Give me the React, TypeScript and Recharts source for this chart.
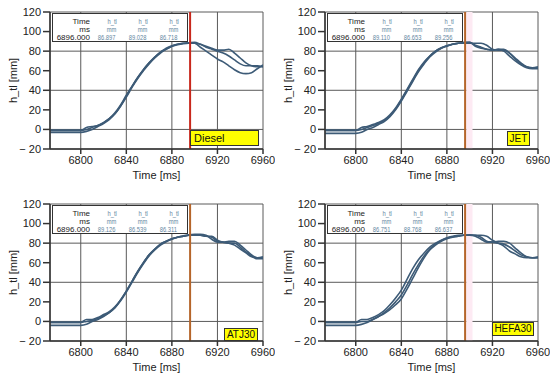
import React from 'react';
import { LineChart, Line, XAxis, YAxis, CartesianGrid, ReferenceLine, ReferenceArea } from 'recharts';

const timeMs = [6773, 6780, 6785, 6790, 6795, 6800, 6805, 6810, 6815, 6820, 6825, 6830, 6835, 6840, 6845, 6850, 6855, 6860, 6865, 6870, 6875, 6880, 6885, 6890, 6895, 6900, 6905, 6910, 6915, 6920, 6925, 6930, 6935, 6940, 6945, 6950, 6955, 6960];
const xTicks = [6800, 6840, 6880, 6920, 6960];
const yTicks = [-20, 0, 20, 40, 60, 80, 100, 120];
const cursorTime = 6896;

const dieselRun1 = [-3, -3, -3, -3, -3, -3, -2, 0, 3, 6, 10, 16, 24, 33, 43, 52, 60, 67, 73, 78, 82, 85, 86.5, 87.5, 88, 88, 84, 80, 76, 72, 69, 65, 61, 58, 57, 58, 62, 66];
const dieselRun2 = [-1, -1, -1, -1, -1, -1, 2, 3, 4, 7, 11, 17, 25, 35, 44, 53, 61, 68, 74, 79, 82, 85, 87, 88, 88.5, 89, 87, 85, 83, 81, 81, 82, 78, 73, 68, 65, 64, 64];
const dieselRun3 = [-1, -1, -1, -1, -1, -1, 0, 2, 4, 7, 11, 16, 24, 34, 44, 53, 61, 68, 74, 79, 83, 85.5, 87, 88, 88.5, 88, 87, 84, 82, 80, 78, 75, 71, 67, 65, 65, 65, 64];

const jetRun1 = [-4, -4, -4, -4, -4, -4, -3, 0, 2, 5, 8, 13, 20, 29, 39, 49, 59, 67, 74, 79, 83, 85, 87, 88, 88.5, 89, 85, 83, 82, 81, 82, 80, 75, 70, 66, 63, 62, 62];
const jetRun2 = [-1, -1, -1, -1, -1, -1, 2, 3, 5, 7, 10, 15, 22, 31, 41, 51, 61, 69, 75, 80, 83.5, 85.5, 87, 88, 88, 88, 88, 88, 86, 82, 81, 81, 78, 73, 68, 64, 63, 64];
const jetRun3 = [-1, -1, -1, -1, -1, -1, 0, 2, 4, 6, 9, 14, 21, 30, 40, 50, 60, 68, 75, 80, 83, 85.5, 87, 88, 89, 89, 86, 84, 82, 81, 82, 82, 78, 72, 67, 64, 63, 63];

const atjRun1 = [-4, -4, -4, -4, -4, -4, -3, 0, 2, 5, 9, 14, 21, 30, 40, 50, 59, 67, 73, 78, 81.5, 84, 86, 87, 88, 88.5, 88, 87, 86, 82, 81, 80, 80, 76, 71, 67, 64, 64];
const atjRun2 = [-1, -1, -1, -1, -1, -1, 2, 2, 4, 7, 10, 15, 22, 31, 41, 51, 60, 68, 74, 79, 82, 84.5, 86, 87.5, 88.5, 89, 89, 88, 84, 81, 81, 82, 82, 78, 73, 68, 65, 65];
const atjRun3 = [-1, -1, -1, -1, -1, -1, 0, 1, 3, 6, 9, 14, 22, 31, 41, 51, 60, 68, 74, 79, 82, 84.5, 86, 87, 88, 88, 88, 87, 87, 83, 81, 80, 78, 74, 70, 66, 65, 66];

const hefaRun1 = [-4, -4, -4, -4, -4, -4, -3, -1, 2, 5, 9, 14, 20, 27, 37, 48, 58, 67, 74, 79, 82.5, 85, 86.5, 87.5, 88, 88, 87, 84, 81, 81, 82, 82, 80, 75, 70, 66, 65, 65];
const hefaRun2 = [-1, -1, -1, -1, -1, -1, 2, 2, 4, 7, 11, 17, 24, 32, 43, 54, 63, 70, 76, 80, 83, 85.5, 87, 88, 88, 88, 88, 88, 87, 83, 80, 77, 72, 69, 66, 65, 65, 66];
const hefaRun3 = [-1, -1, -1, -1, -1, -1, 0, 0, 2, 5, 8, 12, 17, 23, 33, 44, 55, 65, 73, 78, 82, 84.5, 86, 87, 88, 88.5, 88, 86, 82, 81, 80, 79, 76, 72, 68, 66, 65, 65];

const fuelLabels = ['Diesel', 'JET', 'ATJ30', 'HEFA30'];
const cursorValues = [
  ['86.897', '89.028', '86.718'],
  ['89.110', '86.653', '89.256'],
  ['89.126', '86.539', '86.311'],
  ['86.751', '88.768', '86.637'],
];
const runSets = [
  [dieselRun1, dieselRun2, dieselRun3],
  [jetRun1, jetRun2, jetRun3],
  [atjRun1, atjRun2, atjRun3],
  [hefaRun1, hefaRun2, hefaRun3],
];

const FONT = 'Arial, "Liberation Sans", sans-serif';
const LINE_COLOR = '#3d5b77';
const VAL_COLOR = '#5f86a0';

type PanelProps = {
  idx: number;
  left: number;
  top: number;
  marginTop: number;
  axisHeight: number;
  labelOffset: number;
  cursorColor: string;
  pinkBand: boolean;
  box: { x: number; y: number; w: number; h: number; center: boolean };
};

const BOX_W = 136;
const BOX_H = 29;

function Cell(props: { s: string; x: number; y: number; color: string; narrow: boolean }) {
  const { s, x, y, color, narrow } = props;
  return (
    <div
      style={{
        position: 'absolute',
        right: BOX_W - 1 - x,
        top: y,
        fontSize: 8,
        lineHeight: '9px',
        color,
        whiteSpace: 'nowrap',
        transform: narrow ? 'scaleX(0.72)' : undefined,
        transformOrigin: 'right center',
      }}
    >
      {s}
    </div>
  );
}

function Panel(p: PanelProps) {
  const runs = runSets[p.idx];
  const data = timeMs.map((t, i) => ({ t, a: runs[0][i], b: runs[1][i], c: runs[2][i] }));
  const vals = cursorValues[p.idx];
  const colRight = [63, 94, 125];
  return (
    <div style={{ position: 'absolute', left: p.left, top: p.top, width: 275, height: 187 }}>
      <LineChart width={275} height={187} data={data} margin={{ top: p.marginTop, right: 12, left: 0, bottom: 0 }}>
        <CartesianGrid stroke="#5a5a5a" strokeWidth={1} />
        {p.pinkBand && <ReferenceArea x1={6897} x2={6902.5} fill="#fdeaf3" fillOpacity={1} stroke="none" />}
        <XAxis
          type="number"
          dataKey="t"
          domain={[6773, 6960]}
          ticks={xTicks}
          allowDataOverflow
          height={p.axisHeight}
          tickSize={5}
          tickMargin={2}
          stroke="#333"
          strokeWidth={1.5}
          tick={{ fontSize: 11, fill: '#222', fontFamily: FONT }}
          label={{ value: 'Time [ms]', position: 'insideBottom', offset: p.labelOffset, fontSize: 11, fill: '#222', fontFamily: FONT }}
        />
        <YAxis
          type="number"
          domain={[-20, 120]}
          ticks={yTicks}
          width={50}
          tickSize={7}
          tickMargin={2}
          stroke="#333"
          strokeWidth={1.5}
          tickFormatter={(v: number) => (v < 0 ? '\u2212 ' + Math.abs(v) : String(v))}
          tick={{ fontSize: 11, fill: '#222', fontFamily: FONT }}
          label={{ value: 'h_tl [mm]', angle: -90, position: 'insideLeft', offset: 13, style: { textAnchor: 'middle' }, fontSize: 11, fill: '#222', fontFamily: FONT }}
        />
        <Line type="monotone" dataKey="a" stroke={LINE_COLOR} strokeWidth={1.6} dot={false} isAnimationActive={false} />
        <Line type="monotone" dataKey="b" stroke={LINE_COLOR} strokeWidth={1.6} dot={false} isAnimationActive={false} />
        <Line type="monotone" dataKey="c" stroke={LINE_COLOR} strokeWidth={1.6} dot={false} isAnimationActive={false} />
        <ReferenceLine x={cursorTime} stroke={p.cursorColor} strokeWidth={2} />
      </LineChart>
      <div style={{ position: 'absolute', left: 52, top: p.marginTop + 1, width: BOX_W, height: BOX_H, border: '1px solid #333', background: '#fff', fontFamily: FONT, boxSizing: 'border-box' }}>
        <Cell s="Time" x={38} y={3} color="#222" narrow={false} />
        <Cell s="ms" x={38} y={11} color="#222" narrow={false} />
        <Cell s="6896.000" x={38} y={19} color="#222" narrow={false} />
        {[0, 1, 2].map((k) => (
          <React.Fragment key={k}>
            <Cell s="h_tl" x={colRight[k] + 2} y={3} color={VAL_COLOR} narrow={true} />
            <Cell s="mm" x={colRight[k] + 1} y={11} color={VAL_COLOR} narrow={true} />
            <Cell s={vals[k]} x={colRight[k]} y={19} color={VAL_COLOR} narrow={true} />
          </React.Fragment>
        ))}
      </div>
      <div
        style={{
          position: 'absolute',
          left: p.box.x,
          top: p.box.y,
          width: p.box.w,
          height: p.box.h,
          background: '#ffff00',
          border: '1px solid #333',
          boxSizing: 'border-box',
          fontFamily: FONT,
          fontSize: p.box.center ? 10 : 11,
          lineHeight: p.box.h - 2 + 'px',
          paddingLeft: p.box.center ? 0 : 3,
          textAlign: p.box.center ? 'center' : 'left',
          color: '#111',
          whiteSpace: 'nowrap',
        }}
      >
        {fuelLabels[p.idx]}
      </div>
    </div>
  );
}

export default function App() {
  return (
    <div style={{ position: 'absolute', left: 0, top: 0, width: 550, height: 374, background: '#fff' }}>
      <Panel idx={0} left={0} top={0} marginTop={12} axisHeight={38} labelOffset={8} cursorColor="#c8281c" pinkBand={false} box={{ x: 190, y: 130, w: 69, h: 16, center: false }} />
      <Panel idx={1} left={275} top={0} marginTop={12} axisHeight={38} labelOffset={8} cursorColor="#b5652a" pinkBand={true} box={{ x: 232, y: 131, w: 23, h: 15, center: true }} />
      <Panel idx={2} left={0} top={187} marginTop={17} axisHeight={33} labelOffset={3} cursorColor="#b5652a" pinkBand={false} box={{ x: 224, y: 141, w: 34, h: 13, center: true }} />
      <Panel idx={3} left={275} top={187} marginTop={17} axisHeight={33} labelOffset={3} cursorColor="#b5652a" pinkBand={true} box={{ x: 217, y: 135, w: 42, h: 14, center: true }} />
    </div>
  );
}
